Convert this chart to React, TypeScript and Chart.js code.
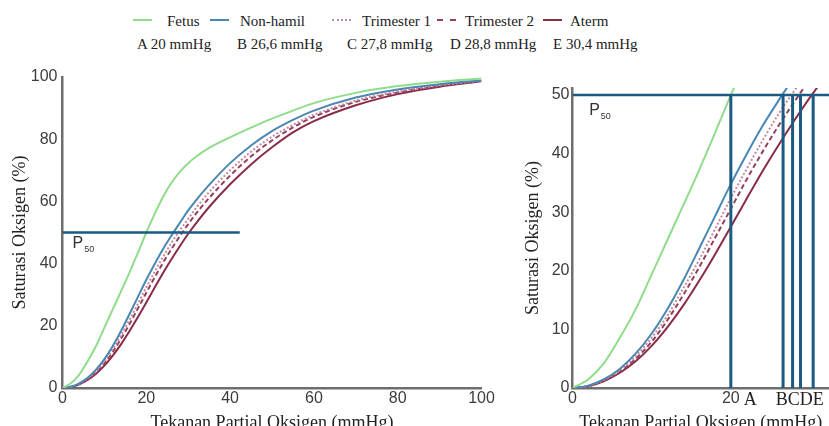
import React, { useEffect, useRef } from 'react';
import { Chart, registerables } from 'chart.js';

Chart.register(...registerables);

// ---- data ----
const pressure = [0, 2, 4, 6, 8, 10, 12, 14, 16, 18, 20, 22, 24, 26, 28, 30, 32, 35, 40, 45, 50, 55, 60, 70, 80, 90, 100];
const fetus = [0, 1.5, 4.3, 8.6, 13.5, 19.4, 25.3, 31.2, 37.2, 43.5, 50, 56, 61.5, 66, 69.5, 72.3, 74.5, 77.2, 80.6, 83.7, 86.6, 89.2, 91.6, 94.9, 97.1, 98.5, 99.5];
const nonHamil = [0, 0.4, 1.5, 3.3, 5.9, 9.3, 13.5, 18.4, 23.8, 29.3, 34.8, 39.9, 44.7, 49, 53.1, 57.1, 60.6, 65.3, 72.3, 78, 82.6, 86.2, 89.2, 93.4, 96, 97.7, 98.9];
const trimester1 = [0, 0.35, 1.4, 3.05, 5.45, 8.6, 12.4, 17, 21.9, 27.1, 32.4, 37.4, 42.2, 46.7, 50.7, 54.4, 58.1, 63, 70, 76, 80.8, 84.6, 87.8, 92.4, 95.3, 97.3, 98.8];
const trimester2 = [0, 0.33, 1.3, 2.8, 5, 7.9, 11.6, 15.9, 20.6, 25.6, 30.6, 35.6, 40.3, 44.7, 48.8, 52.7, 56.3, 61.1, 68.3, 74.5, 79.6, 83.8, 87.2, 92, 95, 97.1, 98.7];
const aterm = [0, 0.3, 1.2, 2.6, 4.6, 7.2, 10.4, 14.1, 18.3, 22.8, 27.5, 32.3, 37, 41.4, 45.6, 49.6, 53.2, 58.2, 65.5, 71.9, 77.4, 82.2, 85.8, 90.9, 94.5, 96.9, 98.6];

const seriesNames = ['Fetus', 'Non-hamil', 'Trimester 1', 'Trimester 2', 'Aterm'];
const p50Letters = ['A', 'B', 'C', 'D', 'E'];
const p50Values = [20, 26.6, 27.8, 28.8, 30.4];
const p50Level = 50;
const leftP50LineEnd = 42.3;

const leftXTicks = [0, 20, 40, 60, 80, 100];
const leftYTicks = [0, 20, 40, 60, 80, 100];
const rightYTicks = [0, 10, 20, 30, 40, 50];
const rightXTickValues = [0, 20, 22.45, 28.7];
const rightXTickLabels = ['0', '20', 'A', 'BCDE'];

// ---- styles ----
const colors = ['#8fdc8b', '#4a87b3', '#c48a9c', '#963f5d', '#8a2c46'];
const dashes: number[][] = [[], [], [2, 2], [5, 3], []];
const legendBorders = ['solid', 'solid', 'dotted', 'dashed', 'solid'];
const refColor = '#1b5a82';
const axisColor = '#6e6e6e';
const sansFont = '"Liberation Sans", Arial, sans-serif';
const serifFont = '"Liberation Serif", "Times New Roman", serif';
const tickFont = { family: sansFont, size: 16 };
const serifTickFont = { family: serifFont, size: 18 };
const titleFont = { family: serifFont, size: 18 };

const curves = [fetus, nonHamil, trimester1, trimester2, aterm];

function curveDatasets() {
  return curves.map((vals, i) => ({
    label: seriesNames[i],
    data: pressure.map((x, j) => ({ x, y: vals[j] })),
    borderColor: colors[i],
    backgroundColor: colors[i],
    borderWidth: 2,
    borderDash: dashes[i],
    pointRadius: 0,
    cubicInterpolationMode: 'monotone' as const,
    fill: false,
    order: 1,
  }));
}

function refLine(points: { x: number; y: number }[], width: number) {
  return {
    label: 'ref',
    data: points,
    borderColor: refColor,
    backgroundColor: refColor,
    borderWidth: width,
    pointRadius: 0,
    fill: false,
    order: 0,
  };
}

function p50Plugin(xVal: number, yVal: number) {
  return {
    id: 'p50label',
    afterDatasetsDraw(chart: any) {
      const { ctx, scales } = chart;
      const px = scales.x.getPixelForValue(xVal);
      const py = scales.y.getPixelForValue(yVal);
      ctx.save();
      ctx.fillStyle = '#333';
      ctx.textBaseline = 'alphabetic';
      ctx.textAlign = 'left';
      ctx.font = `16px ${sansFont}`;
      ctx.fillText('P', px, py);
      const w = ctx.measureText('P').width;
      ctx.font = `9px ${sansFont}`;
      ctx.fillText('50', px + w + 1, py + 4);
      ctx.restore();
    },
  };
}

function baseScale(extra: any) {
  return {
    type: 'linear',
    grid: { display: false, drawTicks: false },
    border: { display: true, color: axisColor, width: 2.5 },
    ...extra,
  };
}

export default function App() {
  const leftRef = useRef<HTMLCanvasElement>(null);
  const rightRef = useRef<HTMLCanvasElement>(null);

  useEffect(() => {
    const left = new Chart(leftRef.current!, {
      type: 'line',
      data: {
        datasets: [
          refLine([{ x: 0, y: p50Level }, { x: leftP50LineEnd, y: p50Level }], 2.5),
          ...curveDatasets(),
        ] as any,
      },
      options: {
        responsive: false,
        animation: false,
        layout: { padding: { left: 0, right: 18.5, top: 17, bottom: 0 } },
        plugins: { legend: { display: false }, tooltip: { enabled: false } },
        scales: {
          x: baseScale({
            min: 0,
            max: 100,
            afterBuildTicks: (s: any) => { s.ticks = leftXTicks.map((v) => ({ value: v })); },
            afterFit: (s: any) => { s.height = 52; },
            ticks: { font: tickFont, color: '#3c3c3c', padding: 1, maxRotation: 0, autoSkip: false },
            title: { display: true, text: 'Tekanan Partial Oksigen (mmHg)', font: titleFont, color: '#222', padding: { top: 0, bottom: 6 } },
          }),
          y: baseScale({
            min: 0,
            max: 100,
            afterBuildTicks: (s: any) => { s.ticks = leftYTicks.map((v) => ({ value: v })); },
            afterFit: (s: any) => { s.width = 62.5; },
            ticks: { font: tickFont, color: '#3c3c3c', padding: 5, autoSkip: false },
            title: { display: true, text: 'Saturasi Oksigen (%)', font: titleFont, color: '#222', padding: { top: 9, bottom: 0 } },
          }),
        } as any,
      },
      plugins: [p50Plugin(2.4, 45)],
    });

    const right = new Chart(rightRef.current!, {
      type: 'line',
      data: {
        datasets: [
          refLine([{ x: 0, y: p50Level }, { x: 40, y: p50Level }], 2.5),
          ...p50Values.map((v) => refLine([{ x: v, y: 0 }, { x: v, y: p50Level }], 3)),
          ...curveDatasets(),
        ] as any,
      },
      options: {
        responsive: false,
        animation: false,
        layout: { padding: { left: 0, right: 0, top: 28, bottom: 0 } },
        plugins: { legend: { display: false }, tooltip: { enabled: false } },
        scales: {
          x: baseScale({
            min: 0,
            max: 32.4,
            afterBuildTicks: (s: any) => { s.ticks = rightXTickValues.map((v) => ({ value: v })); },
            afterFit: (s: any) => { s.height = 52; },
            ticks: {
              font: (c: any) => (c.index >= 2 ? serifTickFont : tickFont),
              color: (c: any) => (c.index >= 2 ? '#222' : '#3c3c3c'),
              callback: (_v: any, i: number) => rightXTickLabels[i],
              padding: 1,
              maxRotation: 0,
              autoSkip: false,
            },
            title: { display: true, text: 'Tekanan Partial Oksigen (mmHg)', font: titleFont, color: '#222', padding: { top: 0, bottom: 6 } },
          }),
          y: baseScale({
            min: 0,
            max: 51.2,
            afterBuildTicks: (s: any) => { s.ticks = rightYTicks.map((v) => ({ value: v })); },
            afterFit: (s: any) => { s.width = 52.5; },
            ticks: { font: tickFont, color: '#3c3c3c', padding: 3, autoSkip: false },
            title: { display: true, text: 'Saturasi Oksigen (%)', font: titleFont, color: '#222', padding: { top: 2, bottom: 0 } },
          }),
        } as any,
      },
      plugins: [p50Plugin(2.1, 46.6)],
    });

    return () => {
      left.destroy();
      right.destroy();
    };
  }, []);

  const row1Lines = [133, 210, 332, 437, 543];
  const row1Text = [167, 240, 362, 465, 570];
  const row2Text = [137, 237, 347, 450, 553];

  return (
    <div
      style={{
        position: 'absolute',
        left: 0,
        top: 0,
        width: 829,
        height: 426,
        overflow: 'hidden',
        background: '#fff',
        fontFamily: serifFont,
        color: '#222',
      }}
    >
      {seriesNames.map((name, i) => (
        <React.Fragment key={name}>
          <div
            style={{
              position: 'absolute',
              left: row1Lines[i],
              top: 19,
              width: 19,
              height: 0,
              borderTop: `2px ${legendBorders[i]} ${colors[i]}`,
            }}
          />
          <div style={{ position: 'absolute', left: row1Text[i], top: 13.5, fontSize: 15, lineHeight: '15px', whiteSpace: 'nowrap' }}>
            {name}
          </div>
        </React.Fragment>
      ))}
      {p50Letters.map((l, i) => (
        <div
          key={l}
          style={{ position: 'absolute', left: row2Text[i], top: 36.5, fontSize: 15, lineHeight: '15px', whiteSpace: 'nowrap' }}
        >
          {`${l} ${String(p50Values[i]).replace('.', ',')} mmHg`}
        </div>
      ))}
      <div style={{ position: 'absolute', left: 0, top: 60, width: 500, height: 380 }}>
        <canvas ref={leftRef} width={500} height={380} style={{ width: 500, height: 380, display: 'block' }} />
      </div>
      <div style={{ position: 'absolute', left: 520, top: 60, width: 309, height: 380 }}>
        <canvas ref={rightRef} width={309} height={380} style={{ width: 309, height: 380, display: 'block' }} />
      </div>
    </div>
  );
}
